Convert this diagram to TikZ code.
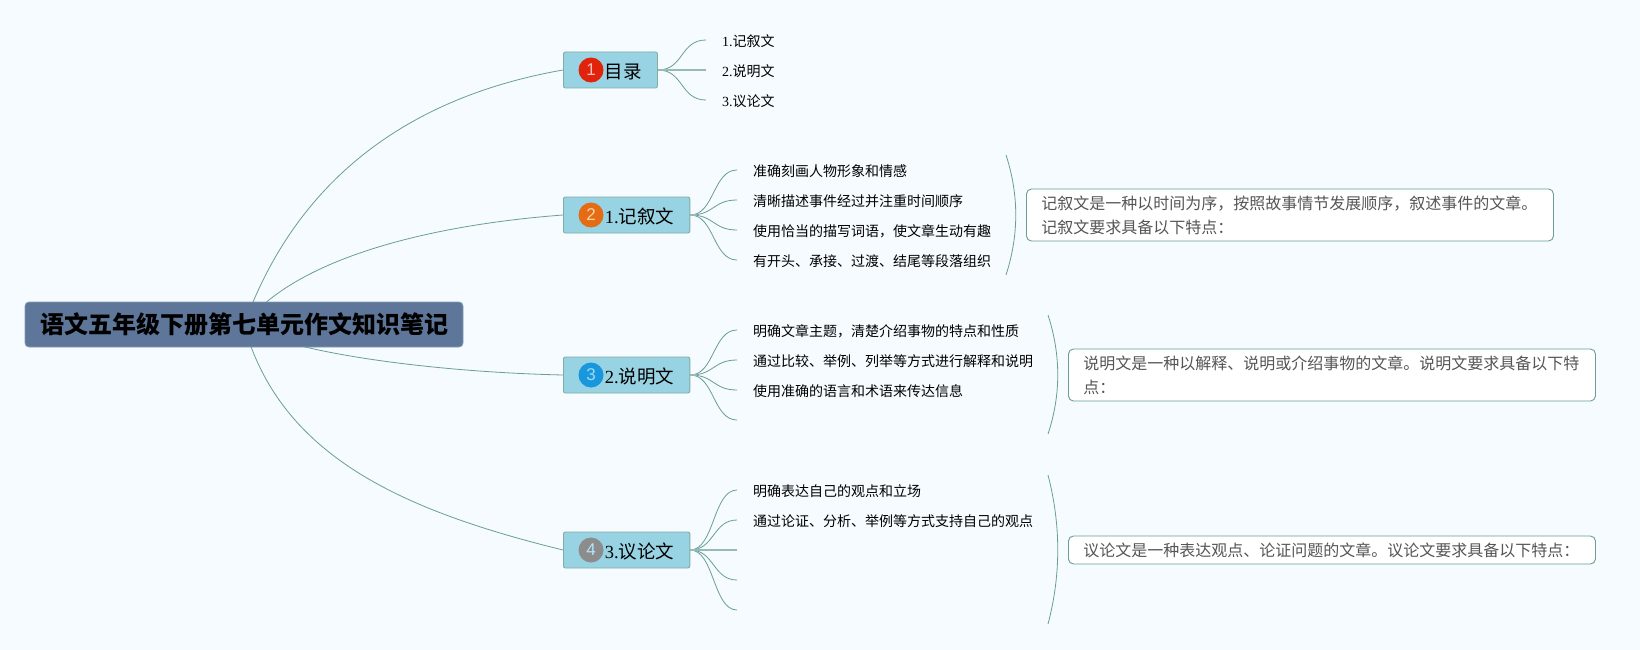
\documentclass[tikz,border=0pt]{standalone}
\usepackage{fontspec}
\usepackage{xcolor}
\setmainfont{Noto Sans CJK SC}
\newfontfamily\numfont{Liberation Serif}
\newfontfamily\dotfont{Liberation Sans}
\definecolor{paper}{HTML}{F5FBFF}
\definecolor{twigcol}{HTML}{6B9E93}
\definecolor{topicfill}{HTML}{98D3E4}
\definecolor{rootfill}{HTML}{5D7699}
\definecolor{notetext}{HTML}{555555}
\tikzset{
    root/.style={draw=rootfill!75!white, fill=rootfill, rounded corners=4pt, line width=.8pt, inner sep=0pt, inner xsep=15pt, minimum height=45pt, font=\fontsize{24}{28}\selectfont\bfseries},
    topic/.style={draw=twigcol!85!white, fill=topicfill, rounded corners=2pt, line width=.9pt, anchor=west, inner xsep=15.5pt, inner ysep=0pt, minimum height=36pt, text height=19pt, text depth=2pt, font=\fontsize{18.5}{22}\selectfont, execute at begin node=\hspace*{26pt}},
    badge/.style={circle, inner sep=0pt, minimum size=25pt, font=\fontsize{17}{20}\selectfont\dotfont},
    leaf/.style={anchor=west, inner xsep=16pt, inner ysep=0pt, text height=14.5pt, text depth=2pt, font=\fontsize{14}{18}\selectfont},
    note/.style={draw=twigcol, fill=white, rounded corners=5pt, line width=.9pt, anchor=west, inner xsep=15pt, inner ysep=0pt, text width=497pt, align=left, text=notetext, font=\fontsize{16}{24}\selectfont},
    twig/.style={draw=twigcol, line width=.8pt},
    stem/.style={draw=twigcol!70!white, line width=1.8pt}
}
\begin{document}
\begin{tikzpicture}[x=1pt, y=-1pt]
    \fill[paper] (0,0) rectangle (1640,650);
    \useasboundingbox (0,0) rectangle (1640,650);

    % main topics
    \node[topic] (mulu) at (563,70) {目录};
    \node[topic] (jixu) at (563,215) {{\numfont 1.}记叙文};
    \node[topic] (shuo) at (563,375) {{\numfont 2.}说明文};
    \node[topic] (yilun) at (563,550) {{\numfont 3.}议论文};
    \node[badge, fill={rgb,255:red,224;green,35;blue,10}, text=red!25!white] (dotmulu) at ([xshift=28pt]mulu.west) {1};
    \node[badge, fill={rgb,255:red,227;green,108;blue,21}, text=orange!35!white] (dotjixu) at ([xshift=28pt]jixu.west) {2};
    \node[badge, fill={rgb,255:red,26;green,150;blue,220}, text=cyan!40!white] (dotshuo) at ([xshift=28pt]shuo.west) {3};
    \node[badge, fill={rgb,255:red,140;green,140;blue,140}, text=cyan!30!white] (dotyilun) at ([xshift=28pt]yilun.west) {4};

    % root, its branches go under it
    \coordinate (hub) at (244,325);
    \draw[twig] (hub) .. controls (300,170) and (420,95) .. (mulu.west);
    \draw[twig] (hub) .. controls (296,258) and (430,225) .. (jixu.west);
    \draw[twig] (hub) .. controls (285,352) and (430,372) .. (shuo.west);
    \draw[twig] (hub) .. controls (280,455) and (400,510) .. (yilun.west);
    \node[root] (center) at (244,324.5) {语文五年级下册第七单元作文知识笔记};

    % leaves
    \node[leaf] (m1) at (706,40) {{\numfont 1.}记叙文};
    \node[leaf] (m2) at (706,70) {{\numfont 2.}说明文};
    \node[leaf] (m3) at (706,100) {{\numfont 3.}议论文};
    \node[leaf] (j1) at (737,170) {准确刻画人物形象和情感};
    \node[leaf] (j2) at (737,200) {清晰描述事件经过并注重时间顺序};
    \node[leaf] (j3) at (737,230) {使用恰当的描写词语，使文章生动有趣};
    \node[leaf] (j4) at (737,260) {有开头、承接、过渡、结尾等段落组织};
    \node[leaf] (s1) at (737,330) {明确文章主题，清楚介绍事物的特点和性质};
    \node[leaf] (s2) at (737,360) {通过比较、举例、列举等方式进行解释和说明};
    \node[leaf] (s3) at (737,390) {使用准确的语言和术语来传达信息};
    \node[leaf] (s4) at (737,420) {};
    \node[leaf] (y1) at (737,490) {明确表达自己的观点和立场};
    \node[leaf] (y2) at (737,520) {通过论证、分析、举例等方式支持自己的观点};
    \node[leaf] (y3) at (737,550) {};
    \node[leaf] (y4) at (737,580) {};
    \node[leaf] (y5) at (737,610) {};

    \foreach \c in {m1,m3}
        \draw[twig] (mulu.east) .. controls +(26,0) and +(-26,0) .. (\c.west);
    \draw[stem] (mulu.east) -- (m2.west);
    \foreach \c in {j1,j2,j3,j4}
        \draw[twig] (jixu.east) .. controls +(24,0) and +(-24,0) .. (\c.west);
    \foreach \c in {s1,s2,s3,s4}
        \draw[twig] (shuo.east) .. controls +(24,0) and +(-24,0) .. (\c.west);
    \foreach \c in {y1,y2,y4,y5}
        \draw[twig] (yilun.east) .. controls +(24,0) and +(-24,0) .. (\c.west);
    \draw[stem] (yilun.east) -- (y3.west);
    \foreach \t in {jixu,shuo,yilun}
        \draw[stem, line width=2pt] (\t.east) -- +(7,0);

    % summaries with their brackets
    \node[note, minimum height=52pt] (njixu) at (1026,215) {记叙文是一种以时间为序，按照故事情节发展顺序，叙述事件的文章。\\记叙文要求具备以下特点：};
    \node[note, minimum height=52pt] (nshuo) at (1068,375) {说明文是一种以解释、说明或介绍事物的文章。说明文要求具备以下特\\点：};
    \node[note, minimum height=28pt] (nyilun) at (1068,550) {议论文是一种表达观点、论证问题的文章。议论文要求具备以下特点：};

    \draw[twig] (1006,155) .. controls (1019,195) and (1019,235) .. (1006,275);
    \draw[twig] (1048,315) .. controls (1061,355) and (1061,395) .. (1048,434);
    \draw[twig] (1048,475) .. controls (1061,525) and (1061,575) .. (1048,624);
\end{tikzpicture}
\end{document}
